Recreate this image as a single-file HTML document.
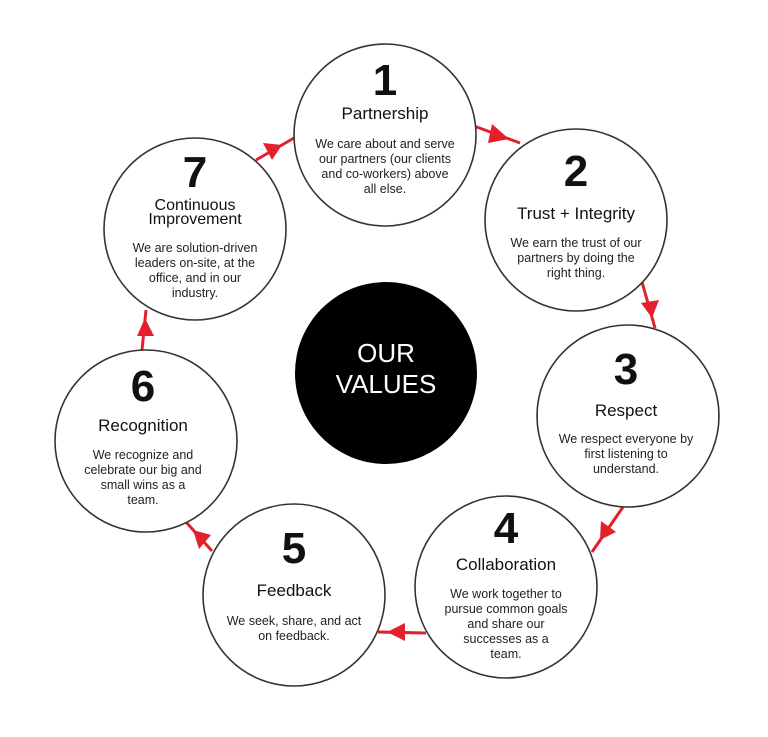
<!DOCTYPE html>
<html><head><meta charset="utf-8"><style>
html,body{margin:0;padding:0;background:#fff;}
svg{display:block;}
text{font-family:"Liberation Sans",Arial,sans-serif;fill:#111;text-anchor:middle;}
.n{font-size:44px;font-weight:bold;}
.t{font-size:17px;}
.b{font-size:12.5px;fill:#222;}
.c{fill:#fff;stroke:#333;stroke-width:1.6;}
.a{stroke:#e3202c;stroke-width:3;fill:none;}
.h{fill:#e3202c;}
</style></head><body>
<svg width="768" height="737" viewBox="0 0 768 737">
<rect width="768" height="737" fill="#fff"/>
<line class="a" x1="474" y1="126" x2="520" y2="143"/>
<polygon class="h" points="509,139 492,124 488,143"/>
<line class="a" x1="256" y1="160" x2="294" y2="138"/>
<polygon class="h" points="282,145 263,143 272,160"/>
<line class="a" x1="642" y1="282" x2="655" y2="328"/>
<polygon class="h" points="652,318 641,303 659,300"/>
<line class="a" x1="623" y1="507" x2="592" y2="552"/>
<polygon class="h" points="600,540 601,521 616,532"/>
<line class="a" x1="426" y1="633" x2="378" y2="632"/>
<polygon class="h" points="387,632 405,623 405,641"/>
<line class="a" x1="212" y1="551" x2="186" y2="522"/>
<polygon class="h" points="193,530 211,535 199,549"/>
<line class="a" x1="142" y1="350" x2="146" y2="310"/>
<polygon class="h" points="145,318 154,336 137,336"/>
<circle class="c" cx="385" cy="135" r="91"/>
<circle class="c" cx="576" cy="220" r="91"/>
<circle class="c" cx="628" cy="416" r="91"/>
<circle class="c" cx="506" cy="587" r="91"/>
<circle class="c" cx="294" cy="595" r="91"/>
<circle class="c" cx="146" cy="441" r="91"/>
<circle class="c" cx="195" cy="229" r="91"/>
<circle cx="386" cy="373" r="91" fill="#000"/>
<text x="386" y="362" style="font-size:26px;fill:#fff">OUR</text>
<text x="386" y="393" style="font-size:26px;fill:#fff">VALUES</text>
<text class="n" x="385" y="95">1</text>
<text class="t" x="385" y="119">Partnership</text>
<text class="b" x="385" y="148">We care about and serve</text>
<text class="b" x="385" y="163">our partners (our clients</text>
<text class="b" x="385" y="178">and co-workers) above</text>
<text class="b" x="385" y="193">all else.</text>
<text class="n" x="576" y="186">2</text>
<text class="t" x="576" y="219">Trust + Integrity</text>
<text class="b" x="576" y="247">We earn the trust of our</text>
<text class="b" x="576" y="262">partners by doing the</text>
<text class="b" x="576" y="277">right thing.</text>
<text class="n" x="626" y="384">3</text>
<text class="t" x="626" y="416">Respect</text>
<text class="b" x="626" y="443">We respect everyone by</text>
<text class="b" x="626" y="458">first listening to</text>
<text class="b" x="626" y="473">understand.</text>
<text class="n" x="506" y="543">4</text>
<text class="t" x="506" y="570">Collaboration</text>
<text class="b" x="506" y="598">We work together to</text>
<text class="b" x="506" y="613">pursue common goals</text>
<text class="b" x="506" y="628">and share our</text>
<text class="b" x="506" y="643">successes as a</text>
<text class="b" x="506" y="658">team.</text>
<text class="n" x="294" y="563">5</text>
<text class="t" x="294" y="596">Feedback</text>
<text class="b" x="294" y="625">We seek, share, and act</text>
<text class="b" x="294" y="640">on feedback.</text>
<text class="n" x="143" y="401">6</text>
<text class="t" x="143" y="431">Recognition</text>
<text class="b" x="143" y="459">We recognize and</text>
<text class="b" x="143" y="474">celebrate our big and</text>
<text class="b" x="143" y="489">small wins as a</text>
<text class="b" x="143" y="504">team.</text>
<text class="n" x="195" y="187">7</text>
<text class="t" x="195" y="210" style="font-size:16px">Continuous</text>
<text class="t" x="195" y="224" style="font-size:16px">Improvement</text>
<text class="b" x="195" y="252">We are solution-driven</text>
<text class="b" x="195" y="267">leaders on-site, at the</text>
<text class="b" x="195" y="282">office, and in our</text>
<text class="b" x="195" y="297">industry.</text>
</svg>
</body></html>
